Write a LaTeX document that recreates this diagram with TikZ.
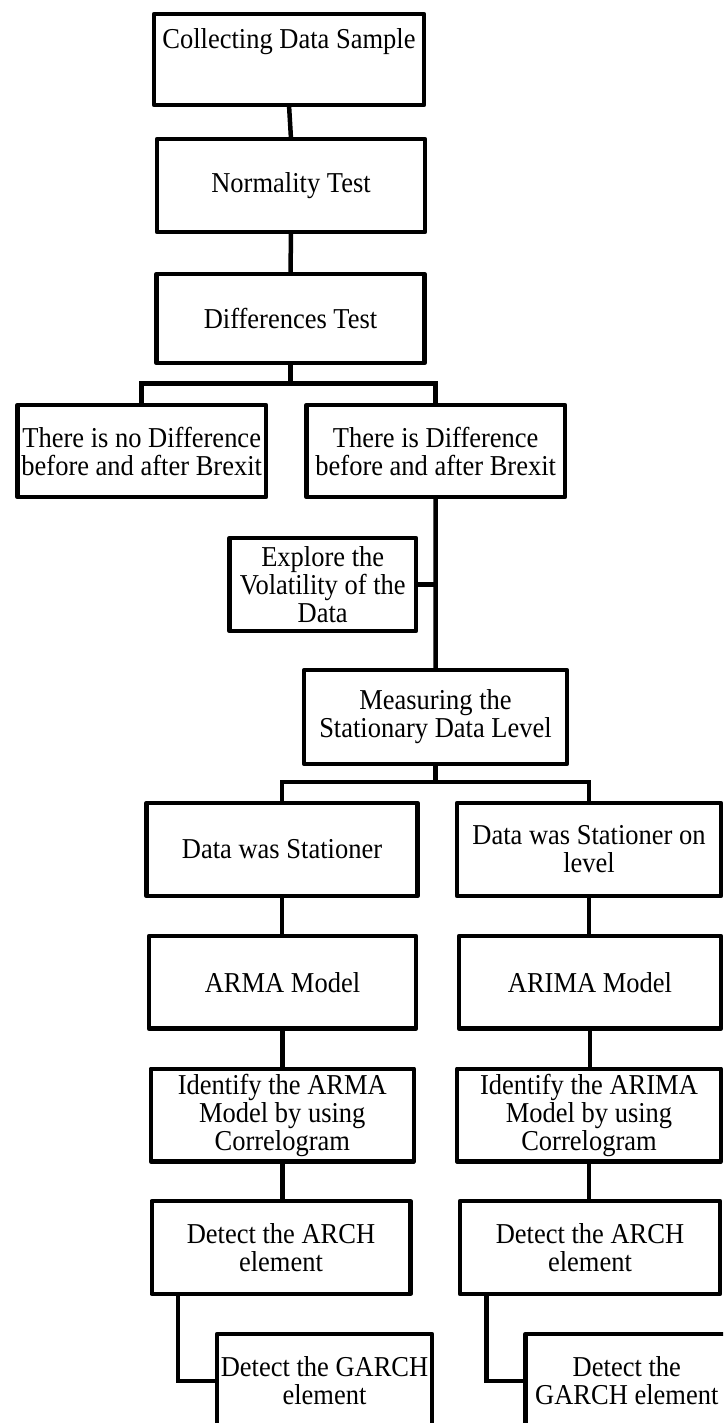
\documentclass[tikz,border=0pt]{standalone}
\usepackage{fontspec}
\setmainfont[FakeStretch=0.92]{Liberation Serif}
\begin{document}
\begin{tikzpicture}[x=1pt,y=-1pt,
  box/.style={draw, line width=4.5pt, line join=round, inner sep=0pt, outer sep=0pt, align=center,
    font=\fontsize{28.8}{28}\selectfont},
  lbl/.style={inner sep=0pt, align=center, font=\fontsize{28.8}{28}\selectfont},
  conn/.style={line width=4.5pt}]
\useasboundingbox (0,0) rectangle (723,1423);
\fill[white] (0,0) rectangle (723,1423);
\clip (0,0) rectangle (723,1423);
% boxes
\node[box, minimum width=270pt, minimum height=91pt] (collect) at (289,59.5) {};
\node[lbl] (collecttext) at (289,42) {Collecting Data Sample};
\node[box, minimum width=268pt, minimum height=93pt] (normal) at (291,185.5) {Normality Test};
\node[box, minimum width=268pt, minimum height=89pt] (diff) at (290.5,318.5) {Differences Test};
\node[box, minimum width=248.5pt, minimum height=92pt] (nodiff) at (141.7,451) {There is no Difference\\before and after Brexit};
\node[box, minimum width=258.5pt, minimum height=92pt] (yesdiff) at (435.7,451) {There is Difference\\before and after Brexit};
\node[box, minimum width=186.5pt, minimum height=93pt] (explore) at (322.7,584.5) {Explore the\\Volatility of the\\Data};
\node[box, minimum width=263pt, minimum height=93.7pt] (measure) at (435.5,717) {Measuring the\\Stationary Data Level};
\node[box, minimum width=271pt, minimum height=93pt] (stat) at (282,849.5) {Data was Stationer};
\node[box, minimum width=264pt, minimum height=93pt] (statlev) at (589,849.5) {Data was Stationer on\\level};
\node[box, minimum width=267pt, minimum height=92.7pt] (arma) at (282.5,982.3) {ARMA Model};
\node[box, minimum width=262pt, minimum height=92.7pt] (arima) at (590,982.3) {ARIMA Model};
\node[box, minimum width=263pt, minimum height=92.5pt] (idarma) at (282.3,1115) {Identify the ARMA\\Model by using\\Correlogram};
\node[box, minimum width=264pt, minimum height=92.5pt] (idarima) at (589,1115) {Identify the ARIMA\\Model by using\\Correlogram};
\node[box, minimum width=258.5pt, minimum height=93pt] (archL) at (281,1247.5) {Detect the ARCH\\element};
\node[box, minimum width=260pt, minimum height=93pt] (archR) at (590,1247.5) {Detect the ARCH\\element};
\node[box, minimum width=215pt, minimum height=94pt] (garchL) at (324.5,1381) {Detect the GARCH\\element};
\node[box, minimum width=202.5pt, minimum height=94pt] (garchR) at (626.8,1381) {Detect the\\GARCH element};
% split points
\coordinate (s1) at (290.5,383.7);
\coordinate (s2) at (435.5,782);
% connectors
\draw[conn] (collect.south) -- (normal.north);
\draw[conn] (normal.south) -- (diff.north);
\draw[conn] (diff.south) -- (s1);
\draw[conn] (nodiff.north) -- (nodiff.north |- s1) -- (yesdiff.north |- s1) -- (yesdiff.north);
\draw[conn] (yesdiff.south) -- (measure.north);
\draw[conn] (explore.east) -- (explore.east -| yesdiff.south);
\draw[conn] (measure.south) -- (s2);
\draw[conn] (stat.north) -- (stat.north |- s2) -- (statlev.north |- s2) -- (statlev.north);
\draw[conn] (stat.south) -- (stat.south |- arma.north);
\draw[conn] (statlev.south) -- (statlev.south |- arima.north);
\draw[conn] (arma.south) -- (arma.south |- idarma.north);
\draw[conn] (arima.south) -- (arima.south |- idarima.north);
\draw[conn] (idarma.south) -- (idarma.south |- archL.north);
\draw[conn] (idarima.south) -- (idarima.south |- archR.north);
\draw[conn] ([xshift=-103pt]archL.south) |- (garchL.west);
\draw[conn] ([xshift=-103.5pt]archR.south) |- (garchR.west);
\end{tikzpicture}
\end{document}
